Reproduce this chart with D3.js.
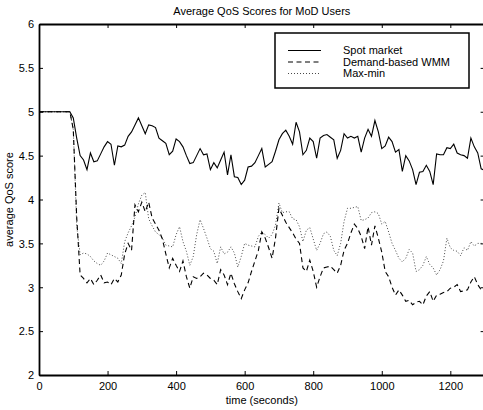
<!DOCTYPE html>
<html><head><meta charset="utf-8">
<script src="https://cdn.jsdelivr.net/npm/d3@7"></script>
<style>body{margin:0;background:#fff}svg{display:block;font-family:"Liberation Sans",Arial,Helvetica,sans-serif}</style>
</head><body><svg id="c" width="483" height="410"></svg>
<script>
const times = [0,10,20,30,40,50,60,70,80,90,100,110,120,130,140,150,160,170,180,190,200,210,220,230,240,250,260,270,280,290,300,310,320,330,340,350,360,370,380,390,400,410,420,430,440,450,460,470,480,490,500,510,520,530,540,550,560,570,580,590,600,610,620,630,640,650,660,670,680,690,700,710,720,730,740,750,760,770,780,790,800,810,820,830,840,850,860,870,880,890,900,910,920,930,940,950,960,970,980,990,1000,1010,1020,1030,1040,1050,1060,1070,1080,1090,1100,1110,1120,1130,1140,1150,1160,1170,1180,1190,1200,1210,1220,1230,1240,1250,1260,1270,1280,1290,1300];
const spotMarket = [5,5,5,5,5,5,5,5,5,5,4.93,4.7,4.5,4.45,4.34,4.53,4.43,4.44,4.52,4.6,4.66,4.63,4.39,4.61,4.6,4.62,4.72,4.77,4.85,4.93,4.84,4.75,4.85,4.84,4.82,4.7,4.67,4.64,4.51,4.55,4.69,4.66,4.6,4.5,4.41,4.42,4.5,4.58,4.51,4.52,4.34,4.42,4.36,4.45,4.54,4.28,4.51,4.26,4.25,4.17,4.22,4.37,4.38,4.42,4.5,4.58,4.37,4.4,4.43,4.55,4.68,4.75,4.79,4.72,4.63,4.88,4.77,4.51,4.56,4.7,4.66,4.47,4.7,4.73,4.74,4.71,4.68,4.47,4.56,4.75,4.7,4.72,4.7,4.72,4.54,4.7,4.8,4.72,4.9,4.77,4.58,4.61,4.71,4.66,4.54,4.57,4.32,4.5,4.44,4.34,4.17,4.31,4.32,4.39,4.32,4.17,4.52,4.51,4.51,4.59,4.58,4.63,4.53,4.51,4.5,4.47,4.7,4.6,4.53,4.35,4.33];
const demandWMM = [5,5,5,5,5,5,5,5,5,5,4.8,3.8,3.14,3.1,3.05,3.1,3.03,3.08,3.14,3.05,3.06,3.03,3.1,3.06,3.14,3.38,3.5,3.42,3.94,3.86,3.97,3.86,3.97,3.79,3.72,3.65,3.55,3.38,3.22,3.33,3.25,3.18,3.3,3.12,2.99,3.12,3.1,3.12,3.16,3.14,3.1,3.08,3.03,3.2,3.14,3.03,3.16,3.04,2.95,2.87,2.97,3.05,3.18,3.3,3.42,3.63,3.56,3.45,3.33,3.56,3.9,3.82,3.74,3.68,3.62,3.55,3.5,3.22,3.18,3.31,3.18,3.0,3.12,3.22,3.23,3.24,3.2,3.16,3.25,3.42,3.5,3.62,3.72,3.67,3.58,3.44,3.69,3.48,3.7,3.56,3.4,3.18,3.12,3.0,2.91,2.97,2.91,2.84,2.85,2.8,2.83,2.84,2.8,2.9,2.95,2.84,2.91,2.92,2.94,2.95,2.99,3.0,3.03,2.95,2.96,2.97,3.06,3.12,3.03,2.97,3.0];
const maxMin = [5,5,5,5,5,5,5,5,5,5,4.8,3.7,3.37,3.39,3.38,3.35,3.3,3.27,3.25,3.3,3.39,3.37,3.35,3.33,3.27,3.52,3.62,3.7,3.8,3.95,4.05,4.08,3.78,3.7,3.63,3.6,3.56,3.48,3.47,3.46,3.6,3.69,3.52,3.41,3.25,3.35,3.6,3.77,3.67,3.56,3.44,3.41,3.27,3.46,3.38,3.4,3.46,3.39,3.23,3.35,3.5,3.48,3.47,3.46,3.58,3.63,3.6,3.56,3.6,3.71,3.96,3.85,3.86,3.86,3.78,3.77,3.69,3.52,3.65,3.68,3.55,3.42,3.5,3.61,3.63,3.58,3.42,3.36,3.5,3.75,3.9,3.9,3.91,3.92,3.76,3.77,3.79,3.85,3.86,3.84,3.72,3.75,3.63,3.5,3.42,3.33,3.29,3.33,3.43,3.39,3.18,3.2,3.25,3.35,3.26,3.22,3.14,3.2,3.3,3.56,3.45,3.42,3.41,3.36,3.45,3.42,3.52,3.47,3.5,3.5,3.5];
const seriesNames = ["Spot market","Demand-based WMM","Max-min"];
const xTicks = [0,200,400,600,800,1000,1200];
const yTicks = [2,2.5,3,3.5,4,4.5,5,5.5,6];
const titleText = "Average QoS Scores for MoD Users";
const xLabel = "time (seconds)";
const yLabel = "average QoS score";

const svg = d3.select("#c");
const L = 39, R = 484.6, T = 24, B = 375;
const x = d3.scaleLinear().domain([0,1300]).range([L,R]);
const y = d3.scaleLinear().domain([2,6]).range([B,T]);

const styles = [
  {dash:null, w:1.1, c:"#000"},
  {dash:"5,3.5", w:1.1, c:"#000"},
  {dash:"1,2", w:0.9, c:"#333"}
];
const data = [spotMarket, demandWMM, maxMin];

const clip = svg.append("clipPath").attr("id","pc").append("rect")
  .attr("x",L).attr("y",T).attr("width",R-L).attr("height",B-T);

const line = d3.line().x((d,i)=>x(times[i])).y(d=>y(d));
const g = svg.append("g").attr("clip-path","url(#pc)");
[2,1,0].forEach(k=>{
  g.append("path").datum(data[k]).attr("d",line)
    .attr("fill","none").attr("stroke",styles[k].c).attr("stroke-width",styles[k].w)
    .attr("stroke-dasharray",styles[k].dash);
});

// axes (ticks inside)
const fs = 11;
const ax = svg.append("g").attr("transform",`translate(0,${B})`)
  .call(d3.axisBottom(x).tickValues(xTicks).tickSizeInner(-4).tickSizeOuter(0).tickPadding(5).tickFormat(d3.format("d")));
const axT = svg.append("g").attr("transform",`translate(0,${T})`)
  .call(d3.axisTop(x).tickValues(xTicks).tickSizeInner(-4).tickSizeOuter(0).tickFormat(""));
const ay = svg.append("g").attr("transform",`translate(${L},0)`)
  .call(d3.axisLeft(y).tickValues(yTicks).tickSizeInner(-4).tickSizeOuter(0).tickPadding(5).tickFormat(d=>String(d)));
const ayR = svg.append("g").attr("transform",`translate(${R},0)`)
  .call(d3.axisRight(y).tickValues(yTicks).tickSizeInner(-4).tickSizeOuter(0).tickFormat(""));
[ax,axT,ay,ayR].forEach(a=>{
  a.select(".domain").attr("stroke","#000").attr("stroke-width",1.8);
  a.selectAll(".tick line").attr("stroke","#000").attr("stroke-width",1);
  a.selectAll("text").attr("font-size",fs).attr("font-family","Liberation Sans, Arial, sans-serif").attr("fill","#000");
});
ax.selectAll("text").attr("dy","0.9em");
ay.selectAll("text").attr("dy","0.35em").attr("x",-5);

svg.append("text").attr("x",(L+R)/2).attr("y",15).attr("text-anchor","middle")
  .attr("font-size",11).text(titleText);
svg.append("text").attr("x",(L+R)/2 - 0).attr("y",404).attr("text-anchor","middle")
  .attr("font-size",11).text(xLabel);
svg.append("text").attr("transform",`translate(13,${(T+B)/2}) rotate(-90)`).attr("text-anchor","middle")
  .attr("font-size",11).text(yLabel);

// legend
const lg = svg.append("g");
lg.append("rect").attr("x",275).attr("y",33).attr("width",194).attr("height",55)
  .attr("fill","#fff").attr("stroke","#000").attr("stroke-width",1.5);
const ly = [50.5,62,73.5];
seriesNames.forEach((n,i)=>{
  lg.append("line").attr("x1",288).attr("x2",321).attr("y1",ly[i]).attr("y2",ly[i])
    .attr("stroke",styles[i].c).attr("stroke-width",styles[i].w).attr("stroke-dasharray",styles[i].dash);
  lg.append("text").attr("x",343).attr("y",ly[i]).attr("dy","0.35em").attr("font-size",11).text(n);
});
</script></body></html>
